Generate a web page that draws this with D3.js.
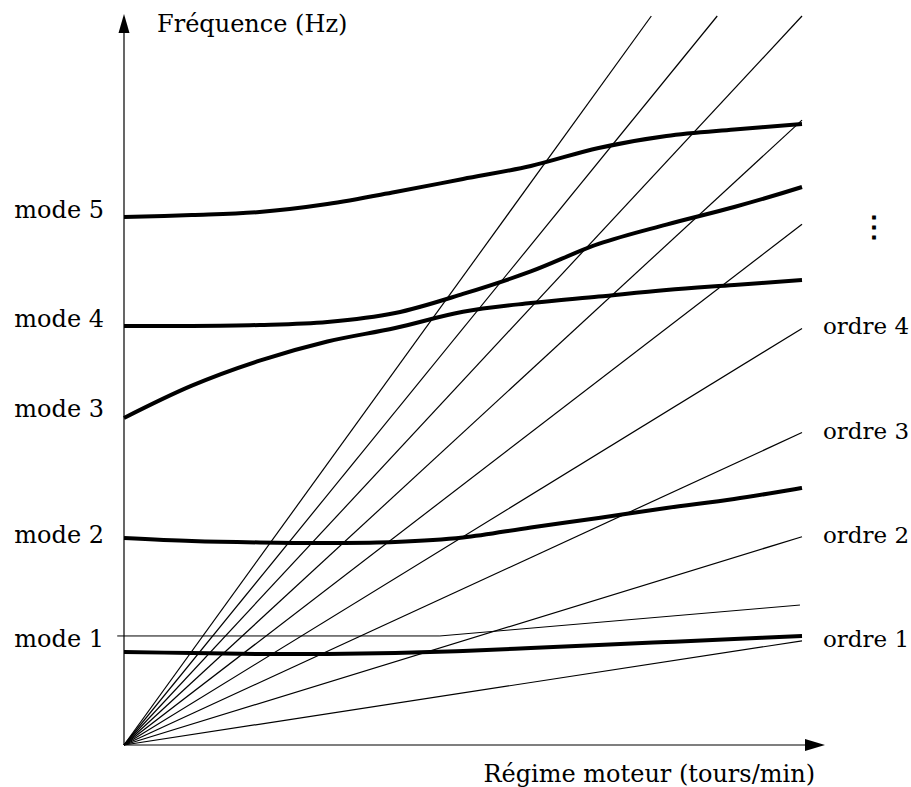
<!DOCTYPE html>
<html><head><meta charset="utf-8">
<script src="https://cdn.jsdelivr.net/npm/d3@7"></script>
<style>
body{margin:0;background:#fff}
svg{display:block;background:#fff}
text{font-family:"DejaVu Serif",serif;font-size:24px;fill:#000}
</style>
</head><body><svg id="c" width="911" height="787"></svg>
<script>
// ---- data ----
const regime = [0,1,2,3,4,5,6,7,8,9,10];
const mode1 = [8.93,8.83,8.74,8.74,8.83,9.03,9.31,9.60,9.89,10.18,10.47];
const mode2 = [19.88,19.59,19.45,19.40,19.49,19.92,20.89,21.80,22.76,23.62,24.68];
const mode3 = [31.40,34.50,36.90,38.74,40.04,41.60,42.44,43.06,43.69,44.17,44.65];
const mode4 = [40.23,40.23,40.33,40.62,41.48,43.31,45.47,48.11,49.97,51.66,53.58];
const mode5 = [50.70,50.89,51.18,51.95,53.10,54.35,55.60,57.33,58.48,59.10,59.63];
const modeLabels = ["mode 1","mode 2","mode 3","mode 4","mode 5"];
const orders = [1,2,3,4,5,6,7,8,9];
const orderLabels = ["ordre 1","ordre 2","ordre 3","ordre 4"];
const refRegime = [-0.1,4.66,9.97];
const refFreq = [10.47,10.47,13.44];
const xTitle = "Régime moteur (tours/min)";
const yTitle = "Fréquence (Hz)";
const xMax = 10, fMax = 70;

// ---- layout ----
const svg = d3.select("#c");
const x = d3.scaleLinear([0, xMax], [124, 802]);
const y = d3.scaleLinear([0, fMax], [745, 16]);
const X0 = x(0), Y0 = y(0);
const axisEndX = 825, axisEndY = 14;

// order lines (clipped at xMax / fMax)
const g = svg.append("g");
g.selectAll("line.ord").data(orders).join("line")
  .attr("class","ord")
  .attr("x1", x(0)).attr("y1", y(0))
  .attr("x2", k => x(Math.min(xMax, fMax / k)))
  .attr("y2", k => y(Math.min(xMax * k, fMax)))
  .attr("stroke","#000").attr("stroke-width",1.2);

// thin reference line for mode 1
g.append("path")
  .attr("d", d3.line().x(d => x(d[0])).y(d => y(d[1]))(d3.zip(refRegime, refFreq)))
  .attr("fill","none").attr("stroke","#000").attr("stroke-width",1);

// mode curves
const modes = [mode1, mode2, mode3, mode4, mode5];
const lineGen = d3.line().x(d => x(d[0])).y(d => y(d[1])).curve(d3.curveCatmullRom.alpha(0.5));
g.selectAll("path.mode").data(modes).join("path")
  .attr("class","mode")
  .attr("d", m => lineGen(d3.zip(regime, m)))
  .attr("fill","none").attr("stroke","#000").attr("stroke-width",4);

// axes
svg.append("line").attr("x1",X0).attr("y1",Y0).attr("x2",axisEndX-18).attr("y2",Y0)
  .attr("stroke","#000").attr("stroke-width",1.2);
svg.append("line").attr("x1",X0).attr("y1",Y0).attr("x2",X0).attr("y2",axisEndY+18)
  .attr("stroke","#000").attr("stroke-width",1.2);
svg.append("path").attr("d",`M${axisEndX},${Y0} L${axisEndX-20},${Y0-6} L${axisEndX-20},${Y0+6} Z`).attr("fill","#000");
svg.append("path").attr("d",`M${X0},${axisEndY} L${X0-5.5},${axisEndY+19} L${X0+5.5},${axisEndY+19} Z`).attr("fill","#000");

// titles
svg.append("text").attr("x",157).attr("y",32).text(yTitle);
svg.append("text").attr("x",815).attr("y",782).attr("text-anchor","end").text(xTitle);

// mode labels
const modeDy = [-5, 5, -1, 1, 1];
svg.selectAll("text.ml").data(modeLabels).join("text")
  .attr("class","ml")
  .attr("x",104).attr("text-anchor","end")
  .attr("y",(d,i) => y(modes[i][0]) + modeDy[i])
  .text(d => d);

// order labels
svg.selectAll("text.ol").data(orderLabels).join("text")
  .attr("class","ol")
  .attr("x",823)
  .attr("y",(d,i) => y(orders[i] * xMax) + 6)
  .style("font-size","23px")
  .text(d => d);

// vertical ellipsis
svg.append("text").attr("x",874).attr("y",236).attr("text-anchor","middle")
  .style("font-size","28px").style("font-weight","bold").text("⋮");
</script>
</body></html>
